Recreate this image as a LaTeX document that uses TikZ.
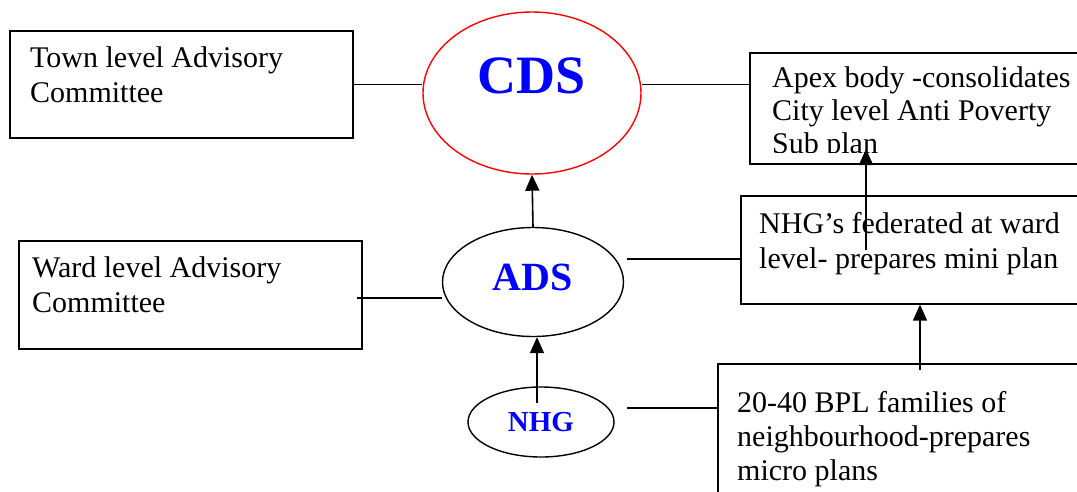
\documentclass[tikz,border=0pt]{standalone}
\usepackage{fontspec}
\setmainfont{Liberation Serif}
\usetikzlibrary{shapes.geometric,arrows.meta}
\tikzset{
 box/.style={draw, line width=1.6pt, inner sep=0pt, anchor=north west},
 oval/.style={draw, ellipse, line width=1.4pt, inner sep=0pt},
 txt/.style={anchor=north west, align=left, inner sep=0pt, font=\fontsize{30}{35}\selectfont},
 lbl/.style={text=blue, inner sep=0pt},
 con/.style={line width=1.6pt},
 arr/.style={-{Triangle[length=16pt,width=14pt]}, line width=1.6pt}
}
\begin{document}
\begin{tikzpicture}[x=1pt,y=-1pt]
\useasboundingbox (0,0) rectangle (1077,491);
\node[box, minimum width=343pt, minimum height=107pt] (town) at (9,30) {};
\node[box, minimum width=343pt, minimum height=108pt] (ward) at (18,240) {};
\node[box, minimum width=360pt, minimum height=111pt] (apex) at (749,52) {};
\node[box, minimum width=360pt, minimum height=108pt] (fed) at (740,195) {};
\node[box, minimum width=380pt, minimum height=150pt] (bpl) at (717,363) {};
\node[oval, draw=red, minimum width=218pt, minimum height=162pt] (cds) at (532,93) {};
\node[oval, minimum width=181pt, minimum height=109pt] (ads) at (533,282) {};
\node[oval, minimum width=146pt, minimum height=70pt] (nhg) at (541,422) {};
\node[lbl, font=\fontsize{54}{54}\selectfont\bfseries] (cdstext) at (532,76) {CDS};
\node[lbl, font=\fontsize{40}{40}\selectfont\bfseries] (adstext) at (533,277) {ADS};
\node[lbl, font=\fontsize{29}{29}\selectfont\bfseries] (nhgtext) at (541,422) {NHG};
\node[txt] (towntext) at (30,46) {Town level Advisory\\Committee};
\node[txt] (wardtext) at (32,256) {Ward level Advisory\\Committee};
\begin{scope}
\clip (749,52) rectangle (1077,152);
\node[txt, font=\fontsize{30}{33}\selectfont] (apextext) at (772,66) {Apex body -consolidates\\City level Anti Poverty\\Sub plan};
\end{scope}
\node[txt] (fedtext) at (759,212) {NHG’s federated at ward\\level- prepares mini plan};
\node[txt, font=\fontsize{30}{34}\selectfont] (bpltext) at (737,391) {20-40 BPL families of\\neighbourhood-prepares\\micro plans};
\coordinate (wardout) at (357,298);
\coordinate (adsout) at (627,259);
\coordinate (nhgout) at (627,408);
\coordinate (nhgtop) at (537,403);
\coordinate (fedin) at (866,250);
\coordinate (apexin) at (866,149);
\coordinate (bplin) at (920,370);
\draw[con] (town.east) -- (town.east -| cds.west);
\draw[con] (cds.east |- town.east) -- (apex.west |- town.east);
\draw[con] (wardout) -- (wardout -| ads.west);
\draw[con] (adsout) -- (adsout -| fed.west);
\draw[con] (nhgout) -- (nhgout -| bpl.west);
\draw[arr] (ads.north) -- (cds.south);
\draw[arr] (nhgtop) -- (nhgtop |- ads.south);
\draw[arr] (fedin) -- (apexin);
\draw[arr] (bplin) -- (bplin |- fed.south);
\end{tikzpicture}
\end{document}
